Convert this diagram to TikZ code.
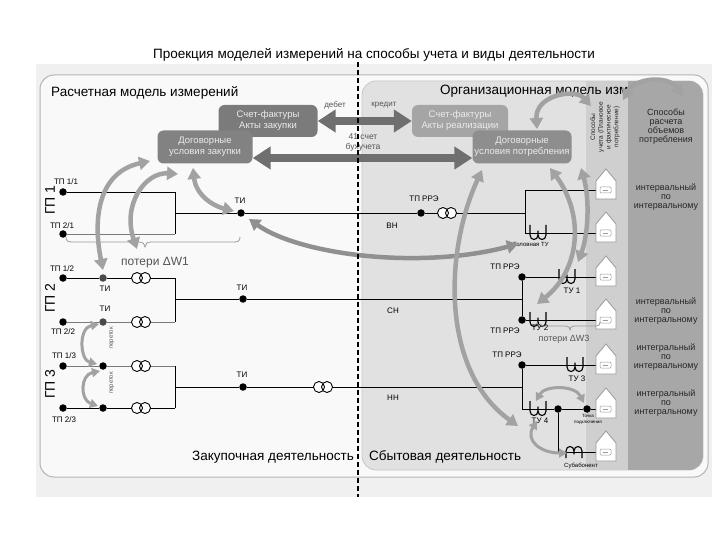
\documentclass[tikz,border=0pt]{standalone}
\usepackage{fontspec}
\setmainfont{Liberation Sans}
\usetikzlibrary{arrows.meta,calc}
\definecolor{bandc}{HTML}{F0F0F0}
\definecolor{panelL}{HTML}{F9F9F9}
\definecolor{panelB}{HTML}{B4B4B4}
\definecolor{panelR}{HTML}{E1E1E1}
\definecolor{panelRB}{HTML}{C8C8C8}
\definecolor{colH}{HTML}{CFCFCF}
\definecolor{colD}{HTML}{A7A7A7}
\definecolor{boxA}{HTML}{7B7B7B}
\definecolor{boxB}{HTML}{828282}
\definecolor{boxC}{HTML}{A5A5A5}
\definecolor{boxD}{HTML}{8E8E8E}
\definecolor{arrD}{HTML}{6F6F6F}
\definecolor{arrL}{HTML}{A2A2A2}
\definecolor{arrM}{HTML}{909090}
\definecolor{wireG}{HTML}{7A7A7A}
\definecolor{dotG}{HTML}{4A4A4A}
\definecolor{houseC}{HTML}{9A9A9A}
\definecolor{txtG}{HTML}{555555}
\definecolor{colText}{HTML}{262626}
\pgfdeclarelayer{back}
\pgfdeclarelayer{wires}
\pgfsetlayers{back,wires,main}
\tikzset{
  wire/.style={line width=0.9pt, draw=black},
  wireg/.style={line width=0.9pt, draw=wireG},
  dot/.style={circle, fill=black, inner sep=0pt, minimum size=7.5pt},
  gdot/.style={circle, fill=dotG, inner sep=0pt, minimum size=7.5pt},
  lbl/.style={font=\fontsize{8}{9}\selectfont, inner sep=0pt},
  tinylbl/.style={font=\fontsize{6}{6.5}\selectfont, inner sep=0pt},
  bigtxt/.style={font=\fontsize{13.5}{16}\selectfont, inner sep=0pt},
  gplbl/.style={font=\fontsize{14}{16}\selectfont, rotate=90, inner sep=0pt},
  dbox/.style={rounded corners=6pt, text=white!92!black, align=center, font=\fontsize{9.5}{11}\selectfont, inner sep=0pt},
  bigarr/.style={line width=8pt, draw=arrD, arrows={Triangle[length=18pt,width=22pt]-Triangle[length=18pt,width=22pt]}},
  larr/.style={line width=4.5pt, draw=arrL, arrows={Triangle[length=11pt,width=13pt]-Triangle[length=11pt,width=13pt]}},
  sarr/.style={line width=3pt, draw=arrL, arrows={Triangle[length=8pt,width=9pt]-Triangle[length=8pt,width=9pt]}},
  rcol/.style={font=\fontsize{9}{9}\selectfont, align=center, text=colText, inner sep=0pt},
  bracec/.style={draw=houseC, line width=0.8pt},
  trafo/.pic={
    \fill[white] (-4,0) circle[radius=5.5] (4,0) circle[radius=5.5];
    \draw[line width=0.9pt] (-4,0) circle[radius=5.5] (4,0) circle[radius=5.5];
  },
  ctu/.pic={
    \draw[line width=1.1pt, line join=round] (-8,-8) -- (-8,2) .. controls (-8,8) and (0,8) .. (0,2) -- (0,-2) -- (0,2) .. controls (0,8) and (8,8) .. (8,2) -- (8,-8);
  },
  subab/.pic={
    \draw[line width=1.1pt, line join=round] (-8,6) -- (-8,-1) .. controls (-8,-7) and (0,-7) .. (0,-1) -- (0,2) -- (0,-1) .. controls (0,-7) and (8,-7) .. (8,-1) -- (8,6);
  },
  house/.pic={
    \draw[draw=houseC, fill=white, line width=0.8pt] (-10,-9) -- (-10,9) -- (10,9) -- (10,-9) -- (0,-21) -- cycle;
    \draw[draw=houseC, line width=0.5pt, rounded corners=1pt] (-6,-3) rectangle (5,3);
    \draw[draw=houseC, line width=0.5pt] (-3,0) -- (2,0);
  }
}
\begin{document}
\begin{tikzpicture}[x=1pt,y=-1pt]
\useasboundingbox (0,0) rectangle (720,540);
\begin{pgfonlayer}{back}
  \fill[white] (0,0) rectangle (720,540);
  \fill[bandc] (36,64) rectangle (712,497);
  \draw[draw=panelB, fill=panelL, line width=1pt, rounded corners=14pt] (40,75) rectangle (708,477);
  \draw[draw=panelRB, fill=panelR, line width=0.8pt, rounded corners=14pt] (362,81) rectangle (703,470);
  \begin{scope}
    \clip[rounded corners=14pt] (362,81) rectangle (703,470);
    \fill[colH] (586,81) rectangle (628,470);
  \end{scope}
\end{pgfonlayer}

% titles
\node[bigtxt] (title) at (374,55) {Проекция моделей измерений на способы учета и виды деятельности};
\node[bigtxt, anchor=west] (ltitle) at (51,93) {Расчетная модель измерений};
\node[bigtxt, anchor=west] (rtitle) at (440,91) {Организационная модель изм};
\begin{scope}
  \clip[rounded corners=14pt] (362,81) rectangle (703,470);
  \fill[colD] (628,81) rectangle (703,470);
\end{scope}
\node[bigtxt, anchor=east] (zak) at (354,457) {Закупочная деятельность};
\node[bigtxt, anchor=west] (sbyt) at (369,457) {Сбытовая деятельность};

% right column texts
\node[rcol] (sr) at (666,127) {Способы\\расчета\\объемов\\потребления};
\node[rcol] (m1) at (666,197) {интервальный\\по\\интервальному};
\node[rcol] (m2) at (666,311) {интервальный\\по\\интегральному};
\node[rcol] (m3) at (666,357) {интегральный\\по\\интервальному};
\node[rcol] (m4) at (666,403) {интегральный\\по\\интегральному};
\node[font=\fontsize{6.5}{7.8}\selectfont, align=center, rotate=90, text=colText, inner sep=0pt] (su) at (605,127) {Способы\\учета (Плановое\\и фактическое\\потребление)};

% boxes
\node[dbox, fill=boxA, minimum width=99pt, minimum height=32pt] (sfz) at (268,121) {Счет-фактуры\\Акты закупки};
\node[dbox, fill=boxB, minimum width=95pt, minimum height=33pt] (dz) at (205,147) {Договорные\\условия закупки};
\node[dbox, fill=boxC, minimum width=96pt, minimum height=32pt] (sfr) at (460,121) {Счет-фактуры\\Акты реализации};
\node[dbox, fill=boxD, minimum width=99pt, minimum height=33pt] (dp) at (522,147) {Договорные\\условия потребления};

\draw[bigarr] (sfz.east) -- (sfr.west);
\draw[bigarr] ($(dz.east)+(0,11)$) -- ($(dp.west)+(0,11)$);
\node[font=\fontsize{8}{9}\selectfont, text=txtG, inner sep=0pt] (deb) at (335,105) {дебет};
\node[font=\fontsize{8}{9}\selectfont, text=txtG, inner sep=0pt] (kre) at (384,105) {кредит};
\node[font=\fontsize{8.5}{10}\selectfont, text=txtG, align=center, inner sep=0pt] (sch) at (363,142) {41 счет\\бухучета};

% ---------- coordinates and dots
% GP1
\node[dot] (tp11) at (63,192) {};
\node[dot] (tp21) at (63,234) {};
\coordinate (a1t) at (175,192);
\coordinate (a1b) at (175,234);
\coordinate (a1m) at (175,213);
\node[dot] (ti1) at (241,213) {};
\node[dot] (rre1) at (421,213) {};
\coordinate (tr1) at (447,213);
\coordinate (v1t) at (525,190);
\coordinate (v1m) at (525,213);
\coordinate (v1b) at (525,233);
\coordinate (h1) at (596,190);
\coordinate (h2) at (596,233);
% GP2
\node[dot] (tp12) at (63,278) {};
\node[gdot] (ti2a) at (103,278) {};
\coordinate (tr2a) at (141,278);
\coordinate (a2t) at (175,278);
\node[dot] (tp22) at (63,322) {};
\node[gdot] (ti2b) at (103,322) {};
\coordinate (tr2b) at (141,322);
\coordinate (a2b) at (175,322);
\coordinate (a2m) at (175,299);
\node[dot] (ti2) at (243,299) {};
\coordinate (v2m) at (522,299);
\node[dot] (rre2a) at (522,277) {};
\node[dot] (rre2b) at (522,320) {};
\coordinate (h3) at (596,277);
\coordinate (h4) at (596,320);
% GP3
\node[dot] (tp13) at (63,366) {};
\node[dot] (ti3a) at (103,366) {};
\coordinate (tr3a) at (141,366);
\coordinate (a3t) at (175,366);
\node[dot] (tp23) at (63,408) {};
\node[dot] (ti3b) at (103,408) {};
\coordinate (tr3b) at (141,408);
\coordinate (a3b) at (175,408);
\coordinate (a3m) at (175,387);
\node[dot] (ti3) at (243,387) {};
\coordinate (tr3) at (323,387);
\coordinate (v3m) at (522,387);
\node[dot] (rre3a) at (522,365) {};
\coordinate (v3b) at (522,409);
\node[dot] (tk1) at (558,409) {};
\node[dot] (tk2) at (587,409) {};
\coordinate (sb) at (558,452);
\coordinate (h5) at (596,365);
\coordinate (h6) at (596,409);
\coordinate (h7) at (596,452);

\begin{pgfonlayer}{wires}
  \draw[wire] (tp11) -- (a1t) -- (a1b);
  \draw[wireg] (tp21) -- (a1b);
  \draw[wire] (a1m) -- (ti1) -- (rre1) -- (v1m);
  \draw[wire] (v1t) -- (v1b);
  \draw[wire] (v1t) -- (h1);
  \draw[wire] (v1b) -- (h2);
  \draw[wire] (tp12) -- (ti2a) -- (a2t) -- (a2b);
  \draw[wireg] (tp22) -- (ti2b) -- (a2b);
  \draw[wire] (a2m) -- (ti2) -- (v2m);
  \draw[wire] (rre2a) -- (rre2b);
  \draw[wire] (rre2a) -- (h3);
  \draw[wire] (rre2b) -- (h4);
  \draw[wireg] (tp13) -- (ti3a) -- (a3t);
  \draw[wire] (a3t) -- (a3b);
  \draw[wire] (tp23) -- (ti3b) -- (a3b);
  \draw[wire] (a3m) -- (ti3) -- (v3m);
  \draw[wire] (rre3a) -- (v3b);
  \draw[wire] (rre3a) -- (h5);
  \draw[wire] (v3b) -- (tk1) -- (tk2) -- (h6);
  \draw[wire] (tk1) -- (sb) -- (h7);
\end{pgfonlayer}

% symbols
\pic at (tr1) {trafo};
\pic at (tr2a) {trafo};
\pic at (tr2b) {trafo};
\pic at (tr3a) {trafo};
\pic at (tr3b) {trafo};
\pic at (tr3) {trafo};
\pic at (538,233) {ctu};
\pic at (567,277) {ctu};
\pic at (538,320) {ctu};
\pic at (575,365) {ctu};
\pic at (538,409) {ctu};
\pic at (574,452) {subab};
\foreach \yy in {190,233,277,320,365,409,452} { \pic at (606,\yy) {house}; }

% braces
\draw[bracec] (66,237) .. controls (66,241) and (68,242) .. (72,242) -- (139,242) .. controls (143,242) and (145,244) .. (145,247) .. controls (145,244) and (147,242) .. (151,242) -- (234,242) .. controls (238,242) and (240,241) .. (240,237);
\draw[bracec] (537,322) .. controls (537,325) and (538,326) .. (541,326) -- (566,326) .. controls (569,326) and (570,328) .. (570,330) .. controls (570,328) and (571,326) .. (574,326) -- (596,326) .. controls (599,326) and (600,325) .. (600,322);

% labels left
\node[lbl] (l11) at (66,182) {ТП 1/1};
\node[lbl] (l21) at (62,226) {ТП 2/1};
\node[lbl] (l12) at (62,269) {ТП 1/2};
\node[lbl] (l22) at (63,332) {ТП 2/2};
\node[lbl] (l13) at (64,356) {ТП 1/3};
\node[lbl] (l23) at (64,420) {ТП 2/3};
\node[lbl] (lti1) at (240,201) {ТИ};
\node[lbl] (lti2a) at (105,289) {ТИ};
\node[lbl] (lti2b) at (105,309) {ТИ};
\node[lbl] (lti2) at (242,288) {ТИ};
\node[lbl] (lti3) at (242,375) {ТИ};
\node[gplbl] (gp1) at (50,200) {ГП 1};
\node[gplbl] (gp2) at (50,298) {ГП 2};
\node[gplbl] (gp3) at (50,384) {ГП 3};
\node[tinylbl, rotate=90, text=txtG] (per1) at (112,338) {переток};
\node[tinylbl, rotate=90, text=txtG] (per2) at (112,383) {переток};
\node[font=\fontsize{12}{13}\selectfont, text=txtG, inner sep=0pt] (pw1) at (155,263) {потери ΔW1};

% labels right
\node[lbl] (lr1) at (424,199) {ТП РРЭ};
\node[lbl] (lvn) at (392,226) {ВН};
\node[tinylbl] (lgol) at (531,244) {Головная ТУ};
\node[lbl] (lr2a) at (505,267) {ТП РРЭ};
\node[lbl] (ltu1) at (572,291) {ТУ 1};
\node[lbl] (lsn) at (393,311) {СН};
\node[lbl] (lr2b) at (505,331) {ТП РРЭ};
\node[lbl] (ltu2) at (540,328) {ТУ 2};
\node[font=\fontsize{9}{10}\selectfont, text=txtG, inner sep=0pt] (pw3) at (564,339) {потери ΔW3};
\node[lbl] (lr3) at (507,355) {ТП РРЭ};
\node[lbl] (ltu3) at (577,379) {ТУ 3};
\node[lbl] (lnn) at (393,398) {НН};
\node[lbl] (ltu4) at (540,421) {ТУ 4};
\node[font=\fontsize{4.5}{6}\selectfont, align=center, inner sep=0pt] (ltk) at (588,419) {Точка\\подключения};
\node[tinylbl] (lsub) at (581,466) {Субабонент};

% light arrows
\coordinate (e1a) at (103,270); \coordinate (e1b) at (150,161);
\coordinate (e2a) at (137,249); \coordinate (e2b) at (178,174);
\coordinate (e3a) at (193,168); \coordinate (e3b) at (234,211);
\coordinate (e4a) at (249,219); \coordinate (e4b) at (518,244);
\coordinate (e5a) at (482,170); \coordinate (e5b) at (518,426);
\coordinate (e6a) at (550,168); \coordinate (e6b) at (537,304);
\coordinate (e7a) at (581,168); \coordinate (e7b) at (578,262);
\coordinate (e8a) at (537,129); \coordinate (e8b) at (591,106);
\coordinate (e9a) at (623,100); \coordinate (e9b) at (683,96);
\coordinate (f1a) at (99,324); \coordinate (f1b) at (97,364);
\coordinate (f2a) at (100,371); \coordinate (f2b) at (98,406);
\coordinate (f3a) at (536,401); \coordinate (f3b) at (584,403);
\coordinate (f4a) at (537,421); \coordinate (f4b) at (567,453);

\draw[larr] (e1a) .. controls (92,215) and (100,172) .. (e1b);
\draw[larr] (e2a) .. controls (122,205) and (145,172) .. (e2b);
\draw[larr] (e3a) .. controls (196,195) and (213,206) .. (e3b);
\draw[larr, draw=arrM] (e4a) .. controls (300,255) and (420,270) .. (e4b);
\draw[larr] (e5a) .. controls (445,250) and (440,370) .. (e5b);
\draw[larr] (e6a) .. controls (585,215) and (580,270) .. (e6b);
\draw[larr] (e7a) .. controls (590,200) and (588,235) .. (e7b);
\draw[larr] (e8a) .. controls (535,95) and (575,88) .. (e8b);
\draw[larr] (e9a) .. controls (635,78) and (668,75) .. (e9b);
\draw[sarr] (f1a) .. controls (78,328) and (80,360) .. (f1b);
\draw[sarr] (f2a) .. controls (80,375) and (80,400) .. (f2b);
\draw[sarr] (f3a) .. controls (545,385) and (575,385) .. (f3b);
\draw[sarr] (f4a) .. controls (525,440) and (540,453) .. (f4b);

% dashed divider
\coordinate (dtop) at (358,62);
\coordinate (dbot) at (358,497);
\draw[line width=1.3pt, dash pattern=on 5pt off 3pt] (dtop) -- (dbot);
\end{tikzpicture}
\end{document}
